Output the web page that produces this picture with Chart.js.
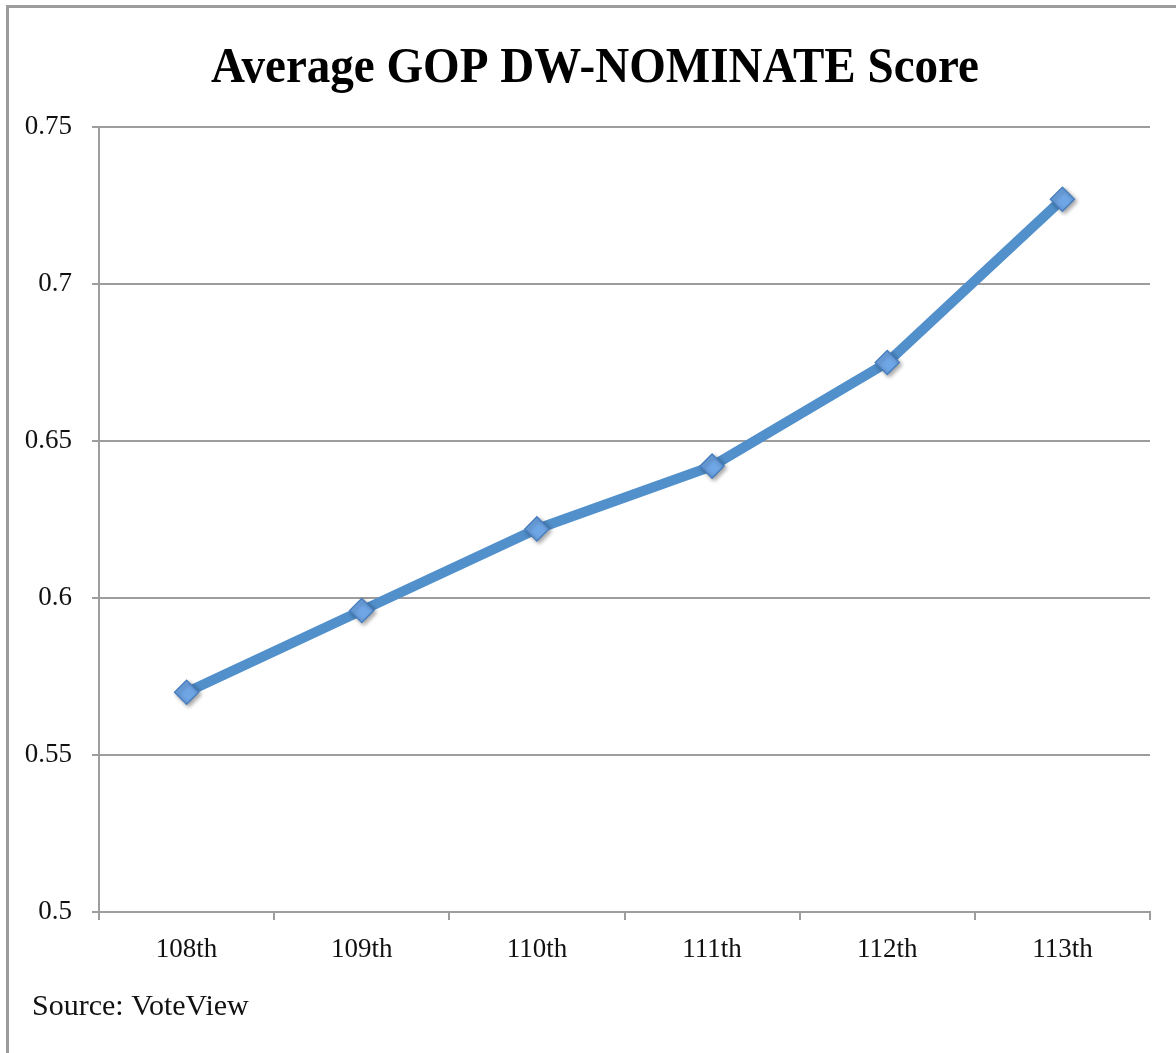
<!DOCTYPE html>
<html>
<head>
<meta charset="utf-8">
<script src="https://cdn.jsdelivr.net/npm/chart.js@4"></script>
<style>
  html, body { margin: 0; padding: 0; background: #fff; }
  #wrap { position: relative; width: 1176px; height: 1053px; overflow: hidden; }
  #frame { position: absolute; left: 6px; top: 5px; right: -10px; bottom: -10px;
           border-top: 3px solid #9c9c9c; border-left: 3px solid #9c9c9c; pointer-events: none; }
  canvas { position: absolute; left: 0; top: 0; }
</style>
</head>
<body>
<div id="wrap">
  <canvas id="c" width="1176" height="1053"></canvas>
  <div id="frame"></div>
</div>
<script>
const titleText = "Average GOP DW-NOMINATE Score";
const sourceText = "Source: VoteView";
const congresses = ["108th", "109th", "110th", "111th", "112th", "113th"];
const avgScores = [0.570, 0.596, 0.622, 0.642, 0.675, 0.727];
const yTickLabels = ["0.5", "0.55", "0.6", "0.65", "0.7", "0.75"];
const yMin = 0.5;
const yMax = 0.75;
const yStep = 0.05;

const gridGray = '#9d9d9d';
const serif = "'Liberation Serif', 'Times New Roman', serif";

const textPlugin = {
  id: 'titleAndSource',
  afterDraw(chart) {
    const ctx = chart.ctx;
    ctx.save();
    ctx.textBaseline = 'alphabetic';
    ctx.fillStyle = '#000';
    ctx.font = "bold 50px " + serif;
    ctx.textAlign = 'center';
    ctx.fillText(titleText, 595, 82, 768);
    ctx.font = "30px " + serif;
    ctx.fillStyle = '#111';
    ctx.textAlign = 'left';
    ctx.fillText(sourceText, 32, 1015);
    ctx.restore();
  }
};

const markerShadow = {
  id: 'markerShadow',
  beforeDatasetDraw(chart, args) {
    if (args.index === 1) {
      const ctx = chart.ctx;
      ctx.save();
      ctx.shadowColor = 'rgba(0,0,0,0.35)';
      ctx.shadowBlur = 4;
      ctx.shadowOffsetX = 2;
      ctx.shadowOffsetY = 2;
    }
  },
  afterDatasetDraw(chart, args) {
    if (args.index === 1) chart.ctx.restore();
  }
};

new Chart(document.getElementById('c'), {
  type: 'line',
  data: {
    labels: congresses,
    datasets: [{
      data: avgScores,
      order: 1,
      borderColor: '#5190cb',
      borderWidth: 10,
      tension: 0,
      pointRadius: 0,
      pointHoverRadius: 0,
      fill: false
    }, {
      data: avgScores,
      order: 0,
      showLine: false,
      pointStyle: 'rectRot',
      pointRadius: 12,
      pointHoverRadius: 12,
      pointBackgroundColor: '#6fa6e6',
      pointBorderColor: '#4a7fbf',
      pointBorderWidth: 1.5,
      borderColor: '#4a7fbf',
      fill: false
    }]
  },
  plugins: [textPlugin, markerShadow],
  options: {
    responsive: false,
    animation: false,
    devicePixelRatio: 1,
    layout: { padding: { left: 0, right: 26, top: 127, bottom: 81 } },
    plugins: {
      legend: { display: false },
      tooltip: { enabled: false },
      title: { display: false }
    },
    scales: {
      x: {
        offset: true,
        grid: {
          offset: true,
          drawOnChartArea: false,
          drawTicks: true,
          tickLength: 8,
          color: gridGray,
          lineWidth: 2
        },
        border: { display: true, color: gridGray, width: 2 },
        ticks: {
          color: '#111',
          padding: 14,
          font: { family: serif, size: 27 }
        },
        afterFit: (s) => { s.height = 60; }
      },
      y: {
        min: yMin,
        max: yMax,
        ticks: {
          stepSize: yStep,
          color: '#111',
          padding: 20,
          font: { family: serif, size: 27 },
          callback: (v, i) => yTickLabels[i] !== undefined ? yTickLabels[i] : String(v)
        },
        grid: {
          color: gridGray,
          lineWidth: 2,
          drawTicks: true,
          tickLength: 7
        },
        border: { display: true, color: gridGray, width: 2 },
        afterFit: (s) => { s.width = 99; }
      }
    }
  }
});
</script>
</body>
</html>
